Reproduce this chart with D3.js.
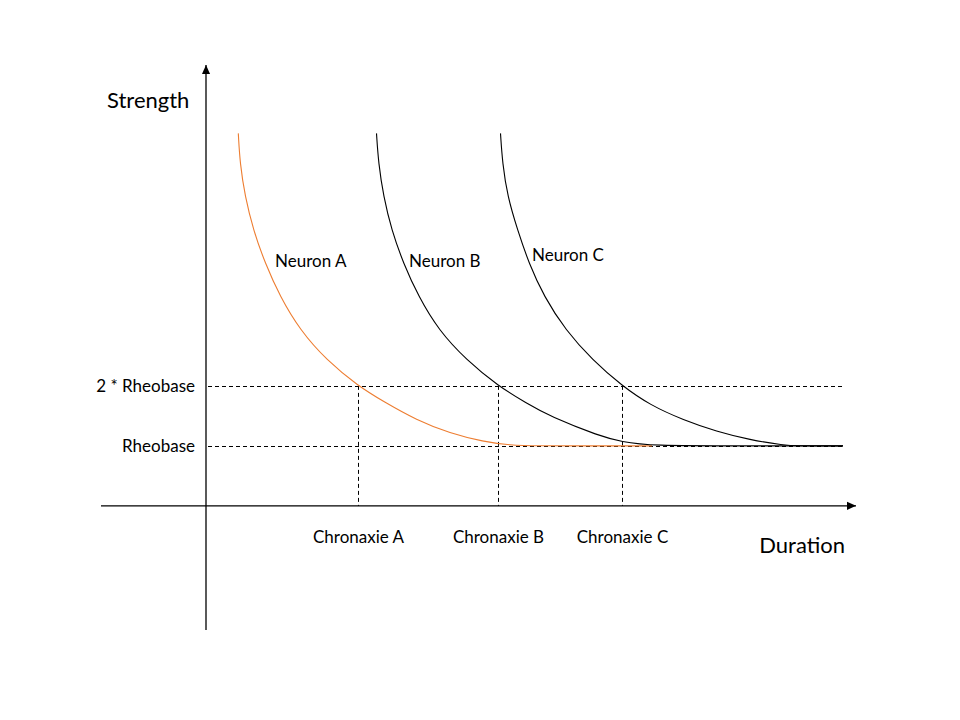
<!DOCTYPE html>
<html>
<head>
<meta charset="utf-8">
<script src="https://cdn.jsdelivr.net/npm/d3@7/dist/d3.min.js"></script>
<style>
  html, body { margin: 0; padding: 0; background: #fff; }
  svg { display: block; }
  text { font-family: Lato, "Open Sans", sans-serif; fill: #000; }
</style>
</head>
<body>
<svg id="chart" width="960" height="720"></svg>
<script>
// ---- data (schematic units: duration, strength) ----
const strengthTickValues = [1, 2];
const strengthTickLabels = ["Rheobase", "2 * Rheobase"];
const chronaxieValues = [3.04, 5.84, 8.32];
const chronaxieLabels = ["Chronaxie A", "Chronaxie B", "Chronaxie C"];
const neuronNames = ["Neuron A", "Neuron B", "Neuron C"];

const neuronA = [
  [0.646, 6.21], [0.68, 5.71], [0.78, 5.16], [0.946, 4.6], [1.18, 4.05],
  [1.48, 3.49], [1.88, 2.93], [2.41, 2.43], [3.04, 2.0], [3.55, 1.74],
  [4.21, 1.43], [4.88, 1.21], [5.55, 1.07], [6.08, 1.01], [6.61, 1.0],
  [7.8, 1.0], [8.92, 1.0]
];
const neuronB = [
  [3.41, 6.21], [3.45, 5.71], [3.55, 5.16], [3.71, 4.6], [3.95, 4.04],
  [4.25, 3.49], [4.65, 2.93], [5.21, 2.43], [5.84, 2.0], [6.41, 1.71],
  [6.88, 1.49], [7.88, 1.16], [8.31, 1.07], [8.88, 1.0], [10.8, 1.0],
  [12.74, 1.0]
];
const neuronC = [
  [5.89, 6.21], [5.93, 5.71], [6.03, 5.16], [6.23, 4.6], [6.46, 4.04],
  [6.76, 3.49], [7.19, 2.93], [7.73, 2.43], [8.32, 2.0], [8.88, 1.68],
  [9.55, 1.43], [10.21, 1.24], [10.88, 1.1], [11.55, 1.01], [11.88, 1.0],
  [12.3, 1.0], [12.74, 1.0]
];
const neuronColors = ["#ED7D31", "#000000", "#000000"];
const labelAnchors = [[1.38, 3.98], [4.06, 3.98], [6.52, 4.08]]; // label position in data units

// ---- scales ----
const svg = d3.select("#chart");
const x = d3.scaleLinear().domain([-2.1, 13]).range([101, 856]);
const y = d3.scaleLinear().domain([-2.07, 7.3]).range([630, 68]);

// arrow marker
svg.append("defs").append("marker")
  .attr("id", "arrow").attr("viewBox", "0 0 10 10")
  .attr("refX", 10).attr("refY", 5)
  .attr("markerWidth", 10).attr("markerHeight", 9)
  .attr("markerUnits", "userSpaceOnUse")
  .attr("orient", "auto")
  .append("path").attr("d", "M0,0.5L10,5L0,9.5Z").attr("fill", "#000");

// dashed guide lines
const gGuides = svg.append("g").attr("stroke", "#000").attr("stroke-width", 1)
  .attr("stroke-dasharray", "4,3").attr("fill", "none");
strengthTickValues.forEach(v => {
  gGuides.append("line")
    .attr("x1", x(0) + 2).attr("x2", x(12.72))
    .attr("y1", Math.round(y(v)) + 0.5).attr("y2", Math.round(y(v)) + 0.5);
});
chronaxieValues.forEach(v => {
  gGuides.append("line")
    .attr("x1", Math.round(x(v)) + 0.5).attr("x2", Math.round(x(v)) + 0.5)
    .attr("y1", y(2)).attr("y2", y(0));
});

// curves
const line = d3.line().x(d => x(d[0])).y(d => y(d[1])).curve(d3.curveBasis);
[neuronA, neuronB, neuronC].forEach((data, i) => {
  svg.append("path").datum(data)
    .attr("d", line)
    .attr("fill", "none")
    .attr("stroke", neuronColors[i])
    .attr("stroke-width", 1.1);
});

// axes lines with arrows
svg.append("line")
  .attr("x1", x(-2.1)).attr("x2", x(13))
  .attr("y1", y(0)).attr("y2", y(0))
  .attr("stroke", "#000").attr("stroke-width", 1.3)
  .attr("marker-end", "url(#arrow)");
svg.append("line")
  .attr("x1", x(0)).attr("x2", x(0))
  .attr("y1", y(-2.07)).attr("y2", y(7.35))
  .attr("stroke", "#000").attr("stroke-width", 1.3)
  .attr("marker-end", "url(#arrow)");

// y tick labels via axis
const yAxis = d3.axisLeft(y).tickValues(strengthTickValues)
  .tickFormat((d, i) => strengthTickLabels[i]).tickSize(0).tickPadding(11);
const gy = svg.append("g").attr("transform", `translate(${x(0)},0)`).call(yAxis);
gy.select(".domain").remove();
gy.selectAll("text").attr("font-family", "Lato, 'Open Sans', sans-serif")
  .attr("font-size", 17).attr("fill", "#000").attr("dy", "0.34em");

// x tick labels via axis
const xAxis = d3.axisBottom(x).tickValues(chronaxieValues)
  .tickFormat((d, i) => chronaxieLabels[i]).tickSize(0).tickPadding(25);
const gx = svg.append("g").attr("transform", `translate(0,${y(0)})`).call(xAxis);
gx.select(".domain").remove();
gx.selectAll("text").attr("font-family", "Lato, 'Open Sans', sans-serif")
  .attr("font-size", 17).attr("fill", "#000");

// neuron labels
neuronNames.forEach((n, i) => {
  svg.append("text")
    .attr("x", x(labelAnchors[i][0])).attr("y", y(labelAnchors[i][1]))
    .attr("font-size", 17).text(n);
});

// axis titles
svg.append("text").attr("x", 107).attr("y", 108).attr("font-size", 22).text("Strength");
svg.append("text").attr("x", 845).attr("y", 553).attr("text-anchor", "end")
  .attr("font-size", 22).text("Duration");
</script>
</body>
</html>
